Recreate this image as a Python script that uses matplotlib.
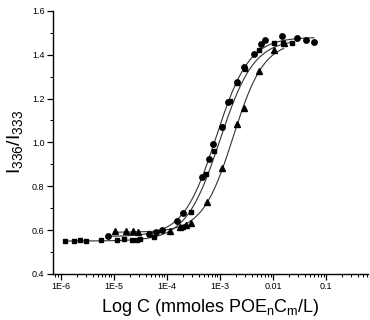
import numpy as np
import matplotlib
matplotlib.use("Agg")
import matplotlib.pyplot as plt
from matplotlib.ticker import LogLocator, FixedLocator, MultipleLocator, NullFormatter

plt.rcParams["font.family"] = ["Liberation Sans", "DejaVu Sans"]

# ── data (log10 of concentration, I336/I333) ──
sq_logc = [-5.91, -5.75, -5.63, -5.52, -5.23, -4.93, -4.80, -4.65, -4.56, -4.50,
           -4.24, -3.69, -3.55, -3.26, -3.12, -2.96, -2.81, -2.67, -2.52,
           -2.26, -1.99, -1.81, -1.64]
sq_ratio = [0.551, 0.551, 0.553, 0.551, 0.554, 0.555, 0.560, 0.557, 0.556, 0.558,
            0.567, 0.615, 0.681, 0.857, 0.960, 1.070, 1.190, 1.272, 1.335,
            1.420, 1.455, 1.452, 1.452]

ci_logc = [-5.10, -4.33, -4.21, -4.09, -3.81, -3.70, -3.34, -3.21, -3.13,
           -2.96, -2.84, -2.67, -2.54, -2.35, -2.23, -2.15, -1.83, -1.55,
           -1.37, -1.23]
ci_ratio = [0.574, 0.581, 0.590, 0.601, 0.642, 0.677, 0.841, 0.924, 0.994,
            1.070, 1.185, 1.275, 1.342, 1.405, 1.450, 1.465, 1.485, 1.477,
            1.467, 1.460]

tr_logc = [-4.98, -4.77, -4.64, -4.54, -3.94, -3.75, -3.64, -3.55, -3.25,
           -2.96, -2.67, -2.55, -2.27, -1.98, -1.80]
tr_ratio = [0.595, 0.595, 0.595, 0.593, 0.598, 0.612, 0.621, 0.631, 0.726,
            0.882, 1.085, 1.156, 1.328, 1.420, 1.455]

# Boltzmann fit parameters (A1, A2, log x0, dx) and the range each fit covers
sq_fit = [0.550, 1.470, -3.00, 0.32]
ci_fit = [0.570, 1.480, -3.07, 0.31]
tr_fit = [0.590, 1.460, -2.75, 0.29]
sq_span = [-5.92, -1.62]
ci_span = [-5.10, -1.23]
tr_span = [-4.98, -1.80]

xtick_vals = [1e-6, 1e-5, 1e-4, 1e-3, 1e-2, 1e-1]
xtick_labels = ["1E-6", "1E-5", "1E-4", "1E-3", "0.01", "0.1"]


def boltzmann(lx, p):
    a1, a2, x0, dx = p
    return a2 + (a1 - a2) / (1.0 + np.exp((lx - x0) / dx))


fig = plt.figure(figsize=(3.7, 3.2), dpi=100)
ax = fig.add_axes([0.143, 0.144, 0.852, 0.822])

for p, span in [(sq_fit, sq_span), (ci_fit, ci_span), (tr_fit, tr_span)]:
    lx = np.linspace(span[0], span[1], 300)
    ax.plot(10 ** lx, boltzmann(lx, p), color="#333333", linewidth=0.8)

ax.plot(10 ** np.array(sq_logc), sq_ratio, "s", color="black", markersize=3.4, linestyle="none")
ax.plot(10 ** np.array(ci_logc), ci_ratio, "o", color="black", markersize=3.9, linestyle="none")
ax.plot(10 ** np.array(tr_logc), tr_ratio, "^", color="black", markersize=4.0, linestyle="none")

ax.set_xscale("log")
ax.set_xlim(10 ** -6.145, 0.62)
ax.set_ylim(0.4, 1.6)

ax.xaxis.set_major_locator(FixedLocator(xtick_vals))
ax.set_xticks(xtick_vals)
ax.set_xticklabels(xtick_labels)
ax.xaxis.set_minor_locator(LogLocator(base=10, subs=np.arange(2, 10), numticks=20))
ax.xaxis.set_minor_formatter(NullFormatter())

ax.yaxis.set_major_locator(MultipleLocator(0.2))
ax.yaxis.set_minor_locator(MultipleLocator(0.1))
ax.set_yticklabels([f"{v:.1f}" for v in ax.get_yticks()])

for side in ("top", "right"):
    ax.spines[side].set_visible(False)
for side in ("left", "bottom"):
    ax.spines[side].set_linewidth(1.0)

ax.tick_params(which="major", direction="out", length=4, width=0.9, labelsize=6.5, pad=2)
ax.tick_params(which="minor", direction="out", length=2, width=0.7)

ax.set_xlabel(r"Log C (mmoles POE$_\mathregular{n}$C$_\mathregular{m}$/L)", fontsize=13, labelpad=4)
ax.set_ylabel(r"I$_\mathregular{336}$/I$_\mathregular{333}$", fontsize=14, labelpad=4)

fig.savefig("out.png", dpi=100)
